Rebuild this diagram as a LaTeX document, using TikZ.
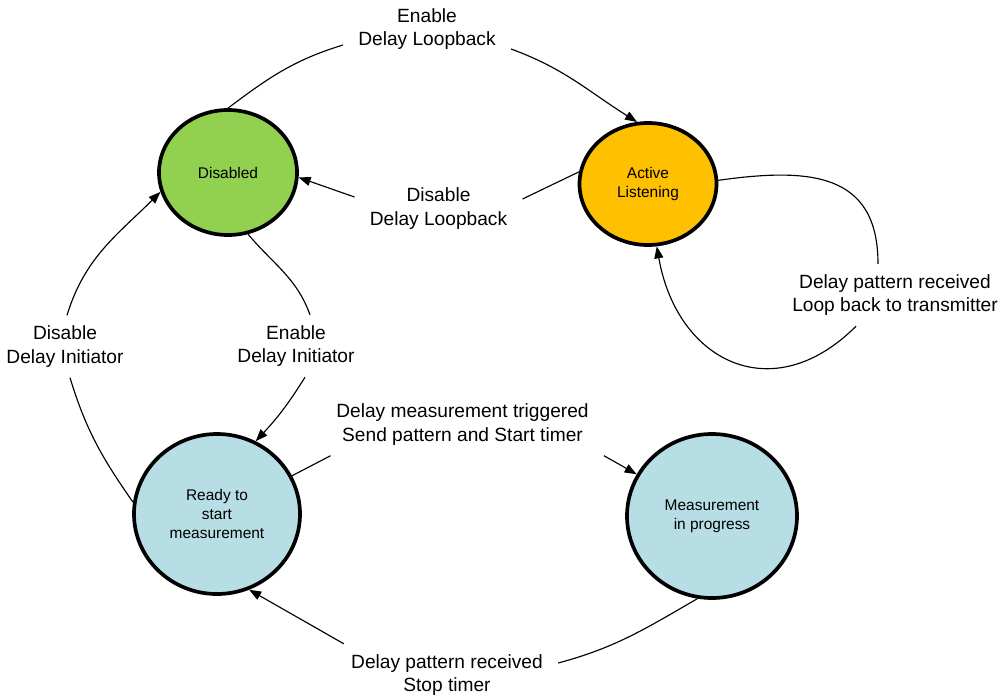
\documentclass[tikz,border=0pt]{standalone}
\usepackage{fontspec}
\setmainfont{Liberation Sans}
\usetikzlibrary{arrows.meta,shapes.geometric}
\definecolor{disgreen}{HTML}{92D050}
\definecolor{actorange}{HTML}{FFC000}
\definecolor{measblue}{RGB}{183,222,228}
\tikzset{
statenode/.style args = {#1/#2/#3}{
            ellipse, draw, line width=2.1pt, fill=#1,
            minimum width=#2, minimum height=#3,
            inner sep=0pt, align=center,
            font=\fontsize{8.8}{10.6}\selectfont},
lbl/.style={align=center, inner xsep=0.3cm, inner ysep=0.2cm,
            font=\fontsize{10.9}{13.6}\selectfont},
link/.style={line width=0.65pt},
trans/.style={line width=0.65pt, -{Triangle[length=0.24cm,width=0.18cm]}}
}
\begin{document}
\begin{tikzpicture}
  \useasboundingbox (0,0) rectangle (20.06,-13.94);
  % states
  \node[statenode=disgreen/2.76cm/2.50cm] (dis) at (4.56,-3.45) {Disabled};
  \node[statenode=actorange/2.74cm/2.44cm] (act) at (12.96,-3.68) {Active\\Listening};
  \node[statenode=measblue/3.32cm/3.20cm] (rdy) at (4.34,-10.28) {Ready to\\start\\measurement};
  \node[statenode=measblue/3.40cm/3.28cm] (mea) at (14.24,-10.32) {Measurement\\in progress};
  % labels
  \node[lbl] (enlb) at (8.54,-0.58) {Enable\\Delay Loopback};
  \node[lbl] (dislb) at (8.77,-4.17) {Disable\\Delay Loopback};
  \node[lbl] (loopl) at (17.9,-5.9) {Delay pattern received\\Loop back to transmitter};
  \node[lbl] (enin) at (5.92,-6.92) {Enable\\Delay Initiator};
  \node[lbl] (disin) at (1.30,-6.93) {Disable\\Delay Initiator};
  \node[lbl] (trig) at (9.25,-8.49) {Delay measurement triggered\\Send pattern and Start timer};
  \node[lbl] (stopl) at (8.94,-13.5) {Delay pattern received\\Stop timer};
  % transitions
  \draw[link] (dis.north) to[out=37,in=197] ([yshift=-0.32cm]enlb.west);
  \draw[trans] ([yshift=-0.4cm]enlb.east) to[out=-20,in=148] (act.100);

  \draw[link] (act.170) -- ([yshift=0.19cm]dislb.east);
  \draw[trans] ([yshift=0.23cm]dislb.west) -- (dis.-4);

  \draw[link] (act.3) to[out=8,in=90,looseness=1.3] ([xshift=-0.34cm]loopl.north);
  \draw[trans] ([xshift=-0.78cm]loopl.south) to[out=225,in=-80,looseness=1.4] (act.-82);

  \draw[link] (dis.-72) to[out=-50,in=110] ([xshift=0.28cm]enin.north);
  \draw[trans] ([xshift=0.18cm]enin.south) to[out=238,in=47] (rdy.62);

  \draw[link] (rdy.172) to[out=125,in=-73] ([xshift=0.1cm]disin.south);
  \draw[trans] ([xshift=0.04cm]disin.north) to[out=73,in=225] (dis.196);

  \draw[link] (rdy.27) -- ([xshift=0.19cm]trig.south west);
  \draw[trans] (trig.south east) -- (mea.151);

  \draw[link] (mea.-100) to[out=210,in=15] ([yshift=0.24cm]stopl.east);
  \draw[trans] ([xshift=0.16cm]stopl.north west) -- (rdy.-67);
\end{tikzpicture}
\end{document}
